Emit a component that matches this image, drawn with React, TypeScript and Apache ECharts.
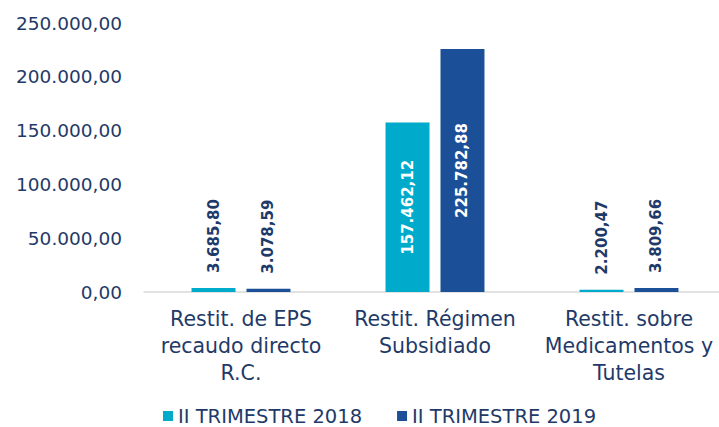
import React, { useEffect, useRef } from "react";
import * as echarts from "echarts";

const categories = [
  "Restit. de EPS\nrecaudo directo\nR.C.",
  "Restit. Régimen\nSubsidiado",
  "Restit. sobre\nMedicamentos y\nTutelas",
];
const seriesNames = ["II TRIMESTRE 2018", "II TRIMESTRE 2019"];
const values2018 = [3685.8, 157462.12, 2200.47];
const values2019 = [3078.59, 225782.88, 3809.66];
const colors = ["#00AACB", "#1B4F97"];
const textColor = "#1F3A68";
const font = "DejaVu Sans";

function fmt(v: number): string {
  const fixed = v.toFixed(2);
  const [intPart, dec] = fixed.split(".");
  const withDots = intPart.replace(/\B(?=(\d{3})+(?!\d))/g, ".");
  return withDots + "," + dec;
}

function buildData(vals: number[]) {
  return vals.map((v) => {
    if (v > 50000) {
      return {
        value: v,
        label: {
          position: "inside",
          rotate: 90,
          align: "center",
          verticalAlign: "middle",
          color: "#FFFFFF",
        },
      };
    }
    return { value: v };
  });
}

export default function App() {
  const ref = useRef<HTMLDivElement>(null);
  useEffect(() => {
    if (!ref.current) return;
    const chart = echarts.init(ref.current, undefined, { renderer: "svg" });
    const labelBase = {
      show: true,
      position: "top",
      rotate: 90,
      align: "left",
      verticalAlign: "middle",
      distance: 15,
      fontFamily: font,
      fontWeight: "bold",
      fontSize: 15,
      color: textColor,
      formatter: (p: any) => fmt(p.value),
    };
    chart.setOption({
      animation: false,
      grid: { left: 144, right: 0, top: 23, bottom: 135 },
      legend: {
        data: seriesNames,
        left: 163,
        top: 406,
        padding: 0,
        icon: "rect",
        itemWidth: 10,
        itemHeight: 10,
        itemGap: 35,
        textStyle: { fontFamily: font, fontSize: 19.5, lineHeight: 20, color: textColor },
      },
      xAxis: {
        type: "category",
        data: categories,
        axisLine: { lineStyle: { color: "#D9D9D9", width: 1.5 } },
        axisTick: { show: false },
        axisLabel: {
          interval: 0,
          fontFamily: font,
          fontSize: 20.5,
          lineHeight: 27,
          color: textColor,
          margin: 13,
        },
      },
      yAxis: {
        type: "value",
        min: 0,
        max: 250000,
        interval: 50000,
        splitLine: { show: false },
        axisLine: { show: false },
        axisTick: { show: false },
        axisLabel: {
          fontFamily: font,
          fontSize: 18.5,
          color: textColor,
          margin: 22,
          formatter: (v: number) => fmt(v),
        },
      },
      series: [
        {
          name: seriesNames[0],
          type: "bar",
          data: buildData(values2018),
          itemStyle: { color: colors[0] },
          barGap: "25%",
          barCategoryGap: "49%",
          label: labelBase,
        },
        {
          name: seriesNames[1],
          type: "bar",
          data: buildData(values2019),
          itemStyle: { color: colors[1] },
          barGap: "25%",
          barCategoryGap: "49%",
          label: labelBase,
        },
      ],
    });
    return () => chart.dispose();
  }, []);
  return (
    <div style={{ width: 719, height: 427, position: "absolute", left: 0, top: 0, overflow: "hidden" }}>
      <div ref={ref} style={{ width: 726, height: 427 }} />
    </div>
  );
}
